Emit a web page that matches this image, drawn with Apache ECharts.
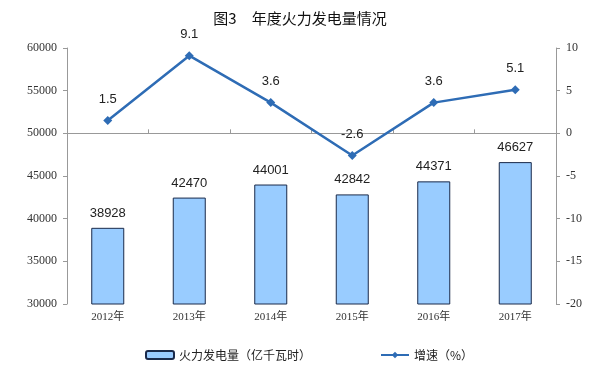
<!DOCTYPE html>
<html><head><meta charset="utf-8">
<script src="https://cdn.jsdelivr.net/npm/echarts@6/dist/echarts.min.js"></script>
<style>html,body{margin:0;padding:0;background:#fff}#c{width:600px;height:372px}</style>
</head><body><div id="c"></div>
<script>
var categories = ['2012年','2013年','2014年','2015年','2016年','2017年'];
var generation = [38928, 42470, 44001, 42842, 44371, 46627];
var growth = [1.5, 9.1, 3.6, -2.6, 3.6, 5.1];
var leftTicks = {min: 30000, max: 60000, interval: 5000};
var rightTicks = {min: -20, max: 10, interval: 5};

var chart = echarts.init(document.getElementById('c'));
var serif = "'Liberation Serif','Times New Roman','Noto Sans CJK SC',serif";
var cjk = "'Noto Sans CJK SC','Liberation Sans',sans-serif";
chart.setOption({
  animation: false,
  title: {text: '图3　年度火力发电量情况', left: 'center', top: 6,
    textStyle: {fontFamily: cjk, fontSize: 15, fontWeight: 'normal', color: '#111'}},
  grid: {left: 67, right: 44, top: 48, bottom: 68},
  legend: [
    {data: ['火力发电量（亿千瓦时）'], left: 140, top: 344, itemWidth: 28, itemHeight: 8,
     textStyle: {fontFamily: cjk, fontSize: 12, color: '#222'}},
    {data: ['增速（%）'], left: 375, top: 344, itemWidth: 28, itemHeight: 8,
     textStyle: {fontFamily: cjk, fontSize: 12, color: '#222'}}
  ],
  xAxis: {type: 'category', data: categories,
    axisLine: {lineStyle: {color: '#999'}},
    axisTick: {show: true, alignWithLabel: false, length: 4, inside: true, lineStyle: {color: '#999'}},
    axisLabel: {fontFamily: serif, fontSize: 11, color: '#333', margin: 8}},
  yAxis: [
    {type: 'value', min: leftTicks.min, max: leftTicks.max, interval: leftTicks.interval,
     splitLine: {show: false},
     axisLine: {show: true, lineStyle: {color: '#999'}},
     axisTick: {show: true, length: 4, lineStyle: {color: '#999'}},
     axisLabel: {fontFamily: serif, fontSize: 12, color: '#333', margin: 10,
       formatter: function(v){ return String(v); }}},
    {type: 'value', min: rightTicks.min, max: rightTicks.max, interval: rightTicks.interval,
     splitLine: {show: false},
     axisLine: {show: true, lineStyle: {color: '#999'}},
     axisTick: {show: true, length: 4, lineStyle: {color: '#999'}},
     axisLabel: {fontFamily: serif, fontSize: 12, color: '#333', margin: 10,
       formatter: function(v){ return String(v); }}}
  ],
  series: [
    {name: '火力发电量（亿千瓦时）', type: 'bar', data: generation, barWidth: 33, yAxisIndex: 0,
     itemStyle: {color: '#99CCFF', borderColor: '#1a2a4a', borderWidth: 1},
     label: {show: true, position: 'top', distance: 8, fontFamily: "'Liberation Sans',Arial,sans-serif", fontSize: 13, color: '#222'}},
    {name: '增速（%）', type: 'line', data: growth, yAxisIndex: 1,
     symbol: 'diamond', symbolSize: 9,
     lineStyle: {color: '#2E6CB5', width: 2.5},
     itemStyle: {color: '#2E6CB5'},
     label: {show: true, position: 'top', distance: 10, fontFamily: "'Liberation Sans',Arial,sans-serif", fontSize: 13, color: '#222',
       formatter: function(p){ return p.value.toFixed(1); }}}
  ]
});
</script></body></html>
